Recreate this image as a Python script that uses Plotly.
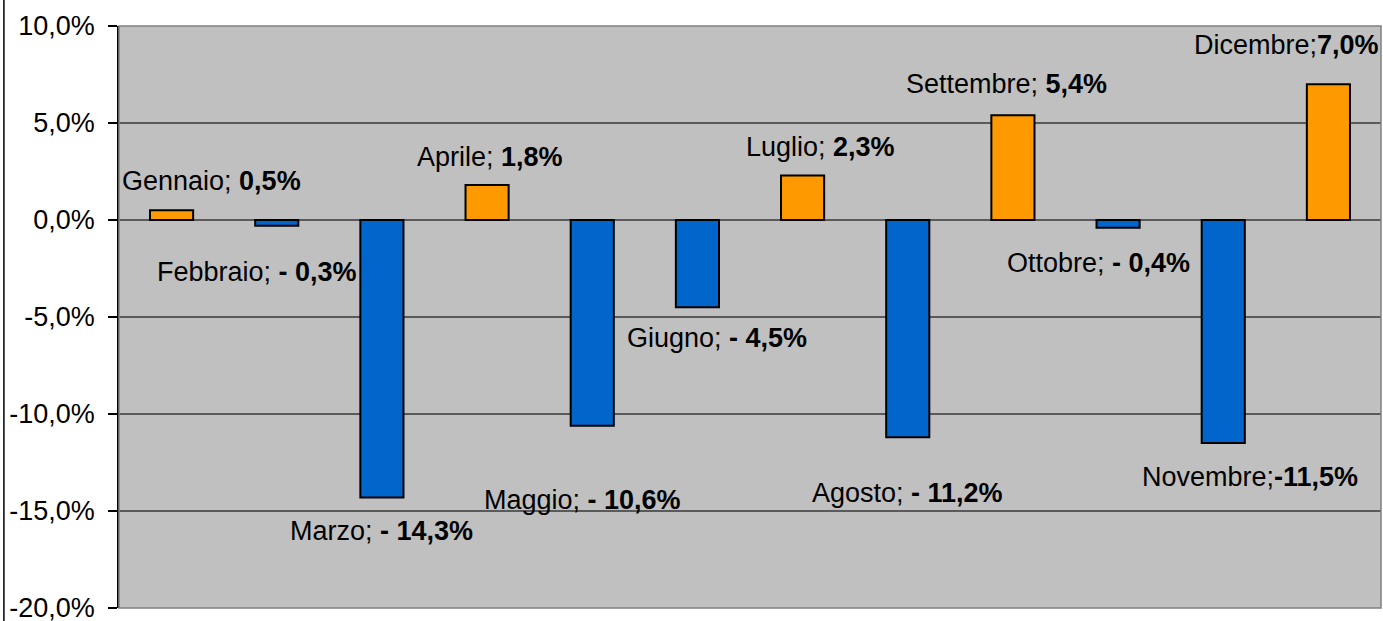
import plotly.graph_objects as go

months = ["Gennaio", "Febbraio", "Marzo", "Aprile", "Maggio", "Giugno",
          "Luglio", "Agosto", "Settembre", "Ottobre", "Novembre", "Dicembre"]
values = [0.5, -0.3, -14.3, 1.8, -10.6, -4.5, 2.3, -11.2, 5.4, -0.4, -11.5, 7.0]
value_texts = ["0,5%", "- 0,3%", "- 14,3%", "1,8%", "- 10,6%", "- 4,5%",
               "2,3%", "- 11,2%", "5,4%", "- 0,4%", "-11,5%", "7,0%"]
separators = ["; ", "; ", "; ", "; ", "; ", "; ", "; ", "; ", "; ", "; ", ";", ";"]
# label offsets relative to bar end (pixels)
label_dx = [40, -20, 0, 3, -10, 20, 18, 0, -6, -20, 27, -42]
label_dy = [29, -46, -34, 28, -74, -31, 28, -56, 31, -35, -34, 39]

tick_vals = [10, 5, 0, -5, -10, -15, -20]
tick_text = ["10,0%", "5,0%", "0,0%", "-5,0%", "-10,0%", "-15,0%", "-20,0%"]

colors = ["#FF9900" if v >= 0 else "#0066CC" for v in values]

fig = go.Figure(go.Bar(
    x=list(range(len(months))), y=values,
    marker=dict(color=colors, line=dict(color="black", width=2)),
    hoverinfo="skip",
))

FS = 27
anns = []
for i, (m, v, t, s) in enumerate(zip(months, values, value_texts, separators)):
    anns.append(dict(
        x=i, y=v, xref="x", yref="y",
        text=f"{m}{s}<b>{t}</b>", showarrow=False,
        xshift=label_dx[i], yshift=label_dy[i],
        font=dict(family="Liberation Sans, Arial", size=FS, color="black"),
        xanchor="center", yanchor="middle",
    ))

fig.update_layout(
    width=1383, height=621,
    margin=dict(l=119, r=2, t=26, b=13, autoexpand=False),
    paper_bgcolor="white", plot_bgcolor="#C0C0C0",
    bargap=0.59, showlegend=False,
    annotations=anns,
    xaxis=dict(range=[-0.5, 11.5], showticklabels=False, showgrid=False,
               zeroline=False, ticks="", fixedrange=True, automargin=False),
    yaxis=dict(range=[-20, 10], tickvals=tick_vals, ticktext=tick_text,
               showgrid=True, gridcolor="#5A5A5A", gridwidth=1.5,
               zeroline=True, zerolinecolor="#5A5A5A", zerolinewidth=1.5,
               showline=True, linecolor="black", linewidth=1.5,
               ticks="outside", ticklen=9, tickcolor="black", tickwidth=1.5,
               ticklabelstandoff=8, ticklabeloverflow="allow",
               fixedrange=True, automargin=False,
               tickfont=dict(family="Liberation Sans, Arial", size=FS, color="black")),
    shapes=[
        dict(type="rect", xref="paper", yref="paper", x0=0, x1=1, y0=0, y1=1,
             line=dict(color="#808080", width=1.5), layer="above"),
        dict(type="line", xref="paper", yref="paper", x0=-0.0912, x1=-0.0912,
             y0=-0.05, y1=1.06, line=dict(color="black", width=1.5)),
    ],
)

fig.write_html(
    "out.html",
    config={"displayModeBar": False},
    post_script=("document.body.style.margin='0';"
                 "document.body.style.overflow='hidden';"
                 "document.documentElement.style.overflow='hidden';"),
)
